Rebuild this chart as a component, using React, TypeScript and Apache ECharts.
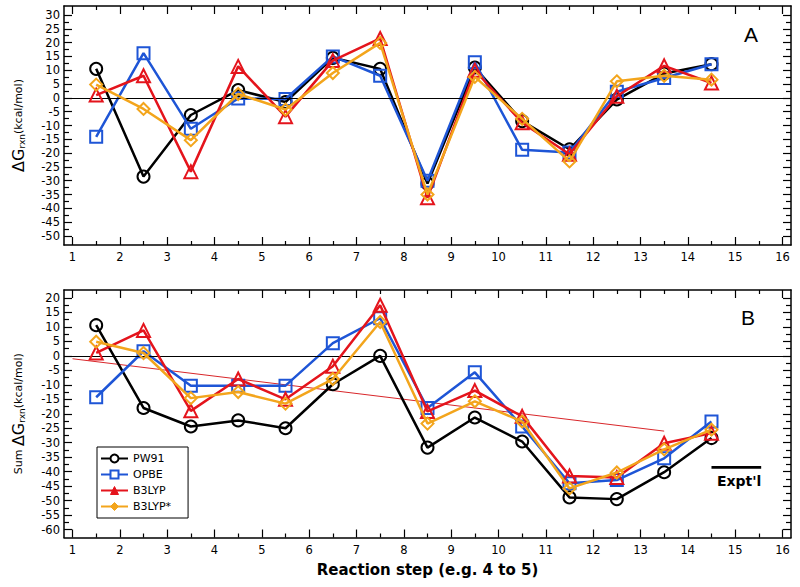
import React, { useEffect, useRef } from 'react';
import * as echarts from 'echarts';

// ---- data ----
const steps = [1.5, 2.5, 3.5, 4.5, 5.5, 6.5, 7.5, 8.5, 9.5, 10.5, 11.5, 12.5, 13.5, 14.5];

// Panel A: ΔG_rxn per step
const pw91A = [10.5, -28.5, -6.2, 2.8, -1.5, 14.5, 10.5, -31, 11, -8.4, -18.6, -0.6, 8.8, 12.2];
const opbeA = [-14.1, 16.2, -11.2, -0.2, -0.4, 15, 8, -30, 12.9, -18.8, -19.8, 2.2, 7.2, 12.2];
const b3lypA = [1, 8, -26.7, 11.4, -6.8, 13.5, 21.5, -36.2, 10, -9, -20.4, 0.6, 11.6, 5.4];
const b3lypStarA = [4.8, -4, -15.3, 1.4, -4.2, 9, 19.9, -35, 7.6, -7.6, -23, 6, 8, 6.6];

// Panel B: cumulative sum ΔG_rxn
const pw91B = [10.6, -18, -24.4, -22.3, -25, -9.8, 0, -31.7, -21.3, -29.6, -48.9, -49.5, -40.2, -28.4];
const opbeB = [-14.3, 1.6, -10.3, -10.3, -10.3, 4.4, 13, -18, -5.7, -24.4, -44, -42.9, -35.4, -22.7];
const b3lypB = [1, 8.8, -19, -8, -15, -3.6, 17.5, -19.2, -12, -20.9, -41.5, -42, -30.2, -26.7];
const b3lypStarB = [4.9, 1, -14.6, -12.5, -16.5, -8, 11.7, -23.4, -15.7, -22.7, -45.8, -40.3, -32.3, -25.5];

// red trend line and experimental reference
const trendX = [1, 13.5];
const trendY = [-1, -26];
const exptX = [14.5, 15.55];
const exptY = [-38.5, -38.5];

// ticks
const xMajorTicks = [1, 2, 3, 4, 5, 6, 7, 8, 9, 10, 11, 12, 13, 14, 15, 16];
const xMinorTicks = [1.5, 2.5, 3.5, 4.5, 5.5, 6.5, 7.5, 8.5, 9.5, 10.5, 11.5, 12.5, 13.5, 14.5, 15.5];
const yMajorTicksA = [-50, -45, -40, -35, -30, -25, -20, -15, -10, -5, 0, 5, 10, 15, 20, 25, 30];
const yMinorTicksA = [-47.5, -42.5, -37.5, -32.5, -27.5, -22.5, -17.5, -12.5, -7.5, -2.5, 2.5, 7.5, 12.5, 17.5, 22.5, 27.5];
const yMajorTicksB = [-60, -55, -50, -45, -40, -35, -30, -25, -20, -15, -10, -5, 0, 5, 10, 15, 20];
const yMinorTicksB = [-57.5, -52.5, -47.5, -42.5, -37.5, -32.5, -27.5, -22.5, -17.5, -12.5, -7.5, -2.5, 2.5, 7.5, 12.5, 17.5];

const seriesNames = ['PW91', 'OPBE', 'B3LYP', 'B3LYP*'];
const seriesColors = ['#000000', '#1e55d6', '#e4141c', '#f3a51c'];
const seriesSymbols = ['circle', 'rect', 'triangle', 'diamond'];

const X_MIN = 0.82;
const X_MAX = 16.18;
const FONT = 'DejaVu Sans';

function xAxisDef(gi: number, pos: string, ticks: number[], len: number, labels: boolean, line: boolean, extra: any = {}) {
  return {
    type: 'value', gridIndex: gi, position: pos, min: X_MIN, max: X_MAX,
    axisLine: { show: line, onZero: false, lineStyle: { color: '#000', width: 1.5 } },
    axisTick: { show: true, inside: true, length: len, customValues: ticks, lineStyle: { color: '#000', width: 1.2 } },
    axisLabel: { show: labels, customValues: ticks, margin: 6, color: '#000', fontSize: 11.5, fontFamily: FONT },
    splitLine: { show: false },
    ...extra,
  };
}

function yAxisDef(gi: number, pos: string, min: number, max: number, ticks: number[], len: number, labels: boolean, line: boolean, extra: any = {}) {
  return {
    type: 'value', gridIndex: gi, position: pos, min, max,
    axisLine: { show: line, onZero: false, lineStyle: { color: '#000', width: 1.5 } },
    axisTick: { show: true, inside: true, length: len, customValues: ticks, lineStyle: { color: '#000', width: 1.2 } },
    axisLabel: { show: labels, customValues: ticks, margin: 4, color: '#000', fontSize: 11.5, fontFamily: FONT },
    splitLine: { show: false },
    ...extra,
  };
}

const nameRich = {
  d: { fontSize: 16, fontFamily: FONT, color: '#000' },
  s: { fontSize: 9, fontFamily: FONT, color: '#000', verticalAlign: 'bottom' },
  u: { fontSize: 11, fontFamily: FONT, color: '#000' },
};

function dataSeries(gi: number, arrays: number[][]) {
  return arrays.map((arr, k) => ({
    type: 'line',
    name: seriesNames[k],
    xAxisIndex: gi * 4,
    yAxisIndex: gi * 4,
    data: steps.map((x, i) => [x, arr[i]]),
    symbol: seriesSymbols[k],
    symbolSize: seriesSymbols[k] === 'triangle' ? 13 : 12,
    lineStyle: { color: seriesColors[k], width: 2.5 },
    itemStyle: { color: 'rgba(0,0,0,0)', borderColor: seriesColors[k], borderWidth: 2 },
    emphasis: { disabled: true },
    z: 3 + k,
    ...(k === 0
      ? {
          markLine: {
            silent: true, symbol: 'none', animation: false,
            label: { show: false },
            lineStyle: { color: '#000', width: 1.2, type: 'solid' },
            data: [{ yAxis: 0 }],
          },
        }
      : {}),
  }));
}

export default function App() {
  const ref = useRef<HTMLDivElement>(null);
  useEffect(() => {
    const chart = echarts.init(ref.current!, undefined, { renderer: 'svg' });
    const option: any = {
      animation: false,
      backgroundColor: '#fff',
      title: [
        { text: 'A', left: 739, top: 19, textStyle: { fontSize: 21, fontWeight: 'normal', fontFamily: 'Liberation Sans', color: '#000' } },
        { text: 'B', left: 736, top: 302, textStyle: { fontSize: 21, fontWeight: 'normal', fontFamily: 'Liberation Sans', color: '#000' } },
      ],
      grid: [
        { left: 64, top: 6, width: 727, height: 239 },
        { left: 64, top: 290, width: 727, height: 247.5 },
      ],
      legend: {
        left: 97, top: 447, orient: 'vertical',
        itemWidth: 27, itemHeight: 10, itemGap: 3,
        padding: [5, 17, 5, 3],
        borderColor: '#000', borderWidth: 1, backgroundColor: '#fff',
        textStyle: { fontSize: 11, fontFamily: FONT, color: '#000', lineHeight: 13 },
        data: seriesNames.map((n, k) => ({
          name: n,
          itemStyle: k < 2
            ? { color: '#fff', borderColor: seriesColors[k], borderWidth: 2 }
            : { color: seriesColors[k], borderColor: seriesColors[k], borderWidth: 1 },
        })),
      },
      xAxis: [
        xAxisDef(0, 'bottom', xMajorTicks, 8, true, true),
        xAxisDef(0, 'bottom', xMinorTicks, 4, false, false),
        xAxisDef(0, 'top', xMajorTicks, 8, false, true),
        xAxisDef(0, 'top', xMinorTicks, 4, false, false),
        xAxisDef(1, 'bottom', xMajorTicks, 8, true, true, {
          name: 'Reaction step (e.g. 4 to 5)', nameLocation: 'middle', nameGap: 25,
          nameTextStyle: { fontSize: 15, fontWeight: 'bold', fontFamily: FONT, color: '#000' },
        }),
        xAxisDef(1, 'bottom', xMinorTicks, 4, false, false),
        xAxisDef(1, 'top', xMajorTicks, 8, false, true),
        xAxisDef(1, 'top', xMinorTicks, 4, false, false),
      ],
      yAxis: [
        yAxisDef(0, 'left', -53.26, 33.26, yMajorTicksA, 8, true, true, {
          name: '{d|ΔG}{s|rxn}{u|(kcal/mol)}', nameLocation: 'middle', nameRotate: 90, nameGap: 38,
          nameTextStyle: { rich: nameRich },
        }),
        yAxisDef(0, 'left', -53.26, 33.26, yMinorTicksA, 5, false, false),
        yAxisDef(0, 'right', -53.26, 33.26, yMajorTicksA, 8, false, true),
        yAxisDef(0, 'right', -53.26, 33.26, yMinorTicksA, 5, false, false),
        yAxisDef(1, 'left', -62.76, 22.76, yMajorTicksB, 8, true, true, {
          name: '{u|Sum }{d|ΔG}{s|rxn}{u|(kcal/mol)}', nameLocation: 'middle', nameRotate: 90, nameGap: 38,
          nameTextStyle: { rich: nameRich },
        }),
        yAxisDef(1, 'left', -62.76, 22.76, yMinorTicksB, 5, false, false),
        yAxisDef(1, 'right', -62.76, 22.76, yMajorTicksB, 8, false, true),
        yAxisDef(1, 'right', -62.76, 22.76, yMinorTicksB, 5, false, false),
      ],
      series: [
        ...dataSeries(0, [pw91A, opbeA, b3lypA, b3lypStarA]),
        ...dataSeries(1, [pw91B, opbeB, b3lypB, b3lypStarB]),
        {
          type: 'line', name: 'trend', xAxisIndex: 4, yAxisIndex: 4,
          data: trendX.map((x, i) => [x, trendY[i]]),
          symbol: 'none', lineStyle: { color: '#d8262a', width: 1 }, z: 2,
          emphasis: { disabled: true },
        },
        {
          type: 'line', name: "Expt'l", xAxisIndex: 4, yAxisIndex: 4,
          data: exptX.map((x, i) =>
            i === exptX.length - 1
              ? {
                  value: [x, exptY[i]],
                  label: {
                    show: true, formatter: "Expt'l", position: 'bottom', offset: [-22, 1],
                    fontSize: 14, fontWeight: 'bold', fontFamily: FONT, color: '#000',
                  },
                }
              : [x, exptY[i]]
          ),
          symbol: 'circle', showSymbol: true, symbolSize: 1,
          itemStyle: { color: 'rgba(0,0,0,0)', borderWidth: 0 },
          lineStyle: { color: '#000', width: 2.7 }, z: 2,
          emphasis: { disabled: true },
        },
      ],
    };
    chart.setOption(option);
    return () => chart.dispose();
  }, []);
  return (
    <div
      ref={ref}
      style={{ position: 'fixed', left: 0, top: 0, width: 800, height: 587, background: '#fff' }}
    />
  );
}
